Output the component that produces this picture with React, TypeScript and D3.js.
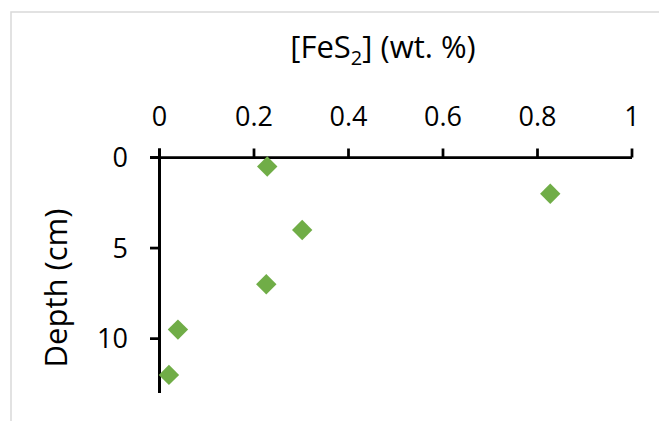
import React from "react";
import * as d3 from "d3";

const depths = [0.5, 2, 4, 7, 9.5, 12];
const fes2 = [0.228, 0.827, 0.302, 0.226, 0.039, 0.02];
const xTicks = [0, 0.2, 0.4, 0.6, 0.8, 1];
const xTickLabels = ["0", "0.2", "0.4", "0.6", "0.8", "1"];
const yTicks = [0, 5, 10];
const yTickLabels = ["0", "5", "10"];

const W = 659;
const H = 421;
const FONT = "'Open Sans', 'Liberation Sans', sans-serif";

export default function App() {
  const x = d3.scaleLinear().domain([0, 1]).range([159.5, 632]);
  const y = d3.scaleLinear().domain([0, 13]).range([157.5, 393]);
  const diamond = d3.symbol().type(d3.symbolDiamond2).size(265)();
  const pts = depths.map((d, i) => ({ d, v: fes2[i] }));
  return (
    <svg
      width={W}
      height={H}
      style={{ position: "absolute", left: 0, top: 0, background: "#fff" }}
    >
      <rect x={0} y={0} width={W} height={H} fill="#fff" />
      <path d={`M11,${H} L11,12 L${W},12`} fill="none" stroke="#D9D9D9" strokeWidth={1.5} />
      <text x={383} y={58} fontFamily={FONT} fontSize={31} textAnchor="middle" fill="#000">
        [FeS<tspan fontSize={20} dy={7}>2</tspan>
        <tspan dy={-7}>] (wt. %)</tspan>
      </text>
      <text
        transform={`translate(67,288) rotate(-90)`}
        fontFamily={FONT}
        fontSize={31}
        textAnchor="middle"
        fill="#000"
      >
        Depth (cm)
      </text>
      <line x1={150} x2={x(1)} y1={y(0)} y2={y(0)} stroke="#000" strokeWidth={2.75} />
      {xTicks.map((t, i) => (
        <g key={"xt" + i}>
          <line x1={x(t)} x2={x(t)} y1={y(0) - 9} y2={y(0)} stroke="#000" strokeWidth={2.75} />
          <text
            x={x(t)}
            y={126}
            fontFamily={FONT}
            fontSize={27}
            textAnchor="middle"
            fill="#000"
          >
            {xTickLabels[i]}
          </text>
        </g>
      ))}
      <line x1={x(0)} x2={x(0)} y1={y(0) - 9} y2={y(13)} stroke="#000" strokeWidth={3} />
      {yTicks.map((t, i) => (
        <g key={"yt" + i}>
          <line x1={150} x2={x(0)} y1={y(t)} y2={y(t)} stroke="#000" strokeWidth={2.75} />
          <text
            x={128}
            y={y(t)}
            dy="0.36em"
            fontFamily={FONT}
            fontSize={27}
            textAnchor="end"
            fill="#000"
          >
            {yTickLabels[i]}
          </text>
        </g>
      ))}
      {pts.map((p, i) => (
        <path
          key={"p" + i}
          d={diamond || ""}
          transform={`translate(${x(p.v)},${y(p.d)})`}
          fill="#70AD47"
        />
      ))}
    </svg>
  );
}
